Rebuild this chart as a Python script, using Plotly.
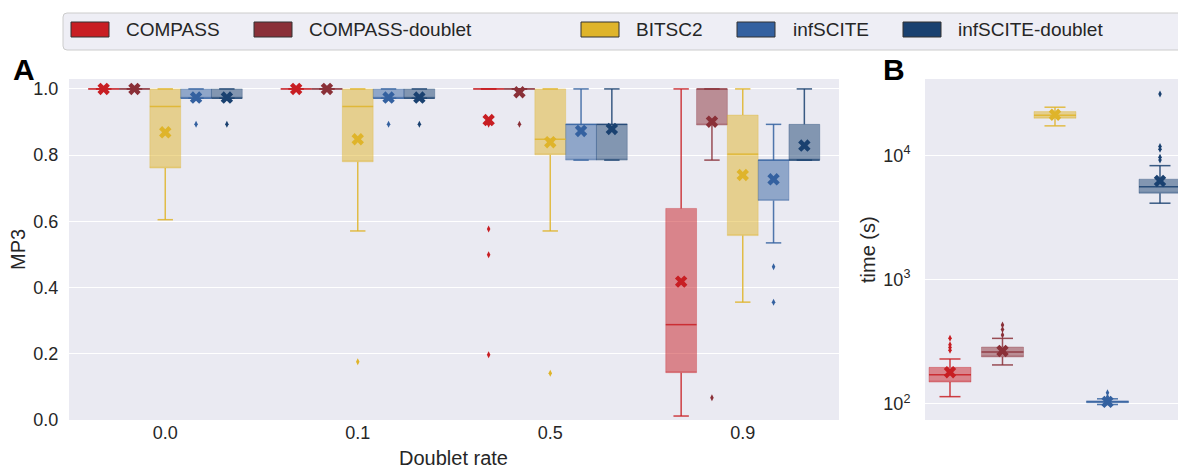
import plotly.graph_objects as go

W, H = 1178, 468

rates = ["0.0", "0.1", "0.5", "0.9"]
methods = ["COMPASS", "COMPASS-doublet", "BITSC2", "infSCITE", "infSCITE-doublet"]
colors = [(200, 30, 35), (138, 48, 56), (223, 180, 42), (52, 97, 160), (26, 65, 112)]

# MP3 box statistics: one row per method, one column per doublet rate
mp3_q1 = [
    [1.0, 1.0, 1.0, 0.143],
    [1.0, 1.0, 1.0, 0.891],
    [0.761, 0.780, 0.801, 0.557],
    [0.972, 0.972, 0.785, 0.663],
    [0.972, 0.972, 0.785, 0.785],
]
mp3_median = [
    [1.0, 1.0, 1.0, 0.288],
    [1.0, 1.0, 1.0, 1.0],
    [0.947, 0.947, 0.848, 0.803],
    [0.972, 0.972, 0.893, 0.785],
    [0.972, 0.972, 0.893, 0.785],
]
mp3_q3 = [
    [1.0, 1.0, 1.0, 0.639],
    [1.0, 1.0, 1.0, 1.0],
    [1.0, 1.0, 1.0, 0.921],
    [1.0, 1.0, 0.893, 0.785],
    [1.0, 1.0, 0.893, 0.893],
]
mp3_low = [
    [1.0, 1.0, 1.0, 0.012],
    [1.0, 1.0, 1.0, 0.785],
    [0.605, 0.571, 0.571, 0.356],
    [0.972, 0.972, 0.785, 0.535],
    [0.972, 0.972, 0.785, 0.785],
]
mp3_high = [
    [1.0, 1.0, 1.0, 1.0],
    [1.0, 1.0, 1.0, 1.0],
    [1.0, 1.0, 1.0, 1.0],
    [1.0, 1.0, 1.0, 0.893],
    [1.0, 1.0, 1.0, 1.0],
]
mp3_mean = [
    [1.0, 1.0, 0.906, 0.418],
    [1.0, 1.0, 0.990, 0.901],
    [0.869, 0.848, 0.839, 0.740],
    [0.974, 0.974, 0.873, 0.727],
    [0.974, 0.974, 0.879, 0.829],
]
mp3_outlier_rate = [
    ["0.5", "0.5", "0.5", "0.5"],
    ["0.5", "0.9"],
    ["0.1", "0.5"],
    ["0.0", "0.1", "0.9", "0.9"],
    ["0.0", "0.1"],
]
mp3_outlier_value = [
    [0.893, 0.577, 0.499, 0.197],
    [0.893, 0.067],
    [0.176, 0.141],
    [0.893, 0.893, 0.463, 0.356],
    [0.893, 0.893],
]

# Run time (seconds) box statistics, one entry per method
time_q1 = [150, 239, 19860, 102, 4955]
time_median = [172, 262, 21030, 104, 5600]
time_q3 = [197, 287, 22490, 106, 6427]
time_low = [114.5, 206, 17260, 99, 4120]
time_high = [230, 337, 24380, 110, 8260]
time_mean = [180, 267, 21200, 104, 6220]
time_outliers = [
    [271, 284, 299, 337],
    [359, 398, 432],
    [],
    [114, 123],
    [9180, 9660, 11200, 11750, 31200],
]

FONT = "Liberation Sans, Arial, sans-serif"
TEXT = "#262626"
BG = "#eaeaf2"


def rgba(c, a):
    return f"rgba({c[0]},{c[1]},{c[2]},{a})"


def px(x):
    return x / W


def py(y):
    return 1 - y / H


def whisker_path(xs, q1, med, q3, lo, hi, width):
    """Median, whisker and cap segments for a set of boxes, None-separated."""
    hw, cw = width / 2, width / 4
    sx, sy = [], []
    for x, a, m, b, l, h in zip(xs, q1, med, q3, lo, hi):
        sx += [x - hw, x + hw, None]
        sy += [m, m, None]
        sx += [x, x, None, x - cw, x + cw, None]
        sy += [b, h, None, h, h, None]
        sx += [x, x, None, x - cw, x + cw, None]
        sy += [a, l, None, l, l, None]
    return sx, sy


fig = go.Figure()


def add_boxes(xs, q1, med, q3, lo, hi, mean, out_x, out_y, width, c, xa, ya):
    # box body: light fill and faint edge
    fig.add_trace(go.Box(
        x=xs, q1=q1, median=q1, q3=q3, lowerfence=q1, upperfence=q3,
        width=width, whiskerwidth=0, boxpoints=False,
        fillcolor=rgba(c, 0.5), line=dict(color=rgba(c, 0.3), width=1),
        xaxis=xa, yaxis=ya, showlegend=False, hoverinfo="skip",
    ))
    sx, sy = whisker_path(xs, q1, med, q3, lo, hi, width)
    fig.add_trace(go.Scatter(
        x=sx, y=sy, mode="lines", line=dict(color=rgba(c, 0.85), width=1.5),
        xaxis=xa, yaxis=ya, showlegend=False, hoverinfo="skip",
    ))
    if out_y:
        fig.add_trace(go.Scatter(
            x=out_x, y=out_y, mode="markers",
            marker=dict(symbol="diamond-tall", size=5, color=rgba(c, 1)),
            xaxis=xa, yaxis=ya, showlegend=False, hoverinfo="skip",
        ))
    fig.add_trace(go.Scatter(
        x=xs, y=mean, mode="markers",
        marker=dict(symbol="x", size=11, color=rgba(c, 1), line=dict(width=0)),
        xaxis=xa, yaxis=ya, showlegend=False, hoverinfo="skip",
    ))


# Panel A: grouped boxes, five methods per doublet rate
n = len(methods)
slot = 0.8 / n
for m in range(n):
    off = (m - (n - 1) / 2) * slot
    xs = [g + off for g in range(len(rates))]
    add_boxes(xs, mp3_q1[m], mp3_median[m], mp3_q3[m], mp3_low[m], mp3_high[m],
              mp3_mean[m],
              [rates.index(r) + off for r in mp3_outlier_rate[m]], mp3_outlier_value[m],
              slot, colors[m], "x", "y")

# Panel B: run time per method on a log axis
for m in range(n):
    add_boxes([m], [time_q1[m]], [time_median[m]], [time_q3[m]], [time_low[m]],
              [time_high[m]], [time_mean[m]],
              [m] * len(time_outliers[m]), time_outliers[m],
              0.8, colors[m], "x2", "y2")

tickfont = dict(family=FONT, size=18, color=TEXT)
common = dict(showline=False, zeroline=False, tickfont=tickfont, automargin=False,
              tickcolor="rgba(0,0,0,0)")

fig.update_layout(
    width=W, height=H,
    margin=dict(l=0, r=0, t=0, b=0, autoexpand=False),
    paper_bgcolor="white", plot_bgcolor=BG,
    boxmode="overlay",
    font=dict(family=FONT, color=TEXT),
    xaxis=dict(domain=[px(69), px(839)], anchor="y", range=[-0.5, 3.5],
               tickvals=list(range(len(rates))), ticktext=rates,
               showgrid=False, ticks="", **common),
    yaxis=dict(domain=[py(420), py(79)], anchor="x", range=[0, 1.03],
               tick0=0, dtick=0.2, tickformat=".1f", ticks="outside",
               showgrid=True, gridcolor="white", gridwidth=1, ticklen=6, **common),
    xaxis2=dict(domain=[px(925), 1.0], anchor="y2", range=[-0.476, 4.343],
                showticklabels=False, showgrid=False, ticks="", **common),
    yaxis2=dict(domain=[py(420), py(79)], anchor="x2", type="log",
                range=[1.871, 4.614], ticks="outside",
                tickvals=[100, 1000, 10000],
                ticktext=["10<sup>2</sup>", "10<sup>3</sup>", "10<sup>4</sup>"],
                showgrid=True, gridcolor="white", gridwidth=1, ticklen=10, **common),
)

annotations = [
    dict(text="MP3", x=px(18), y=py(250), textangle=-90, font=dict(size=20)),
    dict(text="Doublet rate", x=px(454), y=py(458), font=dict(size=20)),
    dict(text="time (s)", x=px(868), y=py(250), textangle=-90, font=dict(size=20)),
    dict(text="<b>A</b>", x=px(24), y=py(69), font=dict(size=30, color="black")),
    dict(text="<b>B</b>", x=px(894), y=py(69), font=dict(size=30, color="black")),
]

# Legend frame with rounded corners
lx0, lx1, ly0, ly1, r = 63, 1190, 13, 50, 4
path = (
    f"M {px(lx0 + r)} {py(ly0)} L {px(lx1 - r)} {py(ly0)} "
    f"Q {px(lx1)} {py(ly0)} {px(lx1)} {py(ly0 + r)} "
    f"L {px(lx1)} {py(ly1 - r)} Q {px(lx1)} {py(ly1)} {px(lx1 - r)} {py(ly1)} "
    f"L {px(lx0 + r)} {py(ly1)} Q {px(lx0)} {py(ly1)} {px(lx0)} {py(ly1 - r)} "
    f"L {px(lx0)} {py(ly0 + r)} Q {px(lx0)} {py(ly0)} {px(lx0 + r)} {py(ly0)} Z"
)
shapes = [dict(type="path", xref="paper", yref="paper", path=path,
               fillcolor="rgba(234,234,242,0.8)", line=dict(color="#cccccc", width=1))]

legend_patch_x = [71, 254, 581, 737, 903]
legend_text_x = [124, 307, 634, 791, 956]
for m, name in enumerate(methods):
    x0 = legend_patch_x[m]
    shapes.append(dict(type="rect", xref="paper", yref="paper",
                       x0=px(x0), x1=px(x0 + 38), y0=py(37), y1=py(22),
                       fillcolor=rgba(colors[m], 1), line=dict(color="#333333", width=1)))
    annotations.append(dict(text=name, x=px(legend_text_x[m]), y=py(30),
                            xanchor="left", font=dict(size=19)))

for a in annotations:
    a.setdefault("xanchor", "center")
    a.update(xref="paper", yref="paper", yanchor="middle", showarrow=False)

fig.update_layout(annotations=annotations, shapes=shapes)

fig.write_html("out.html")
